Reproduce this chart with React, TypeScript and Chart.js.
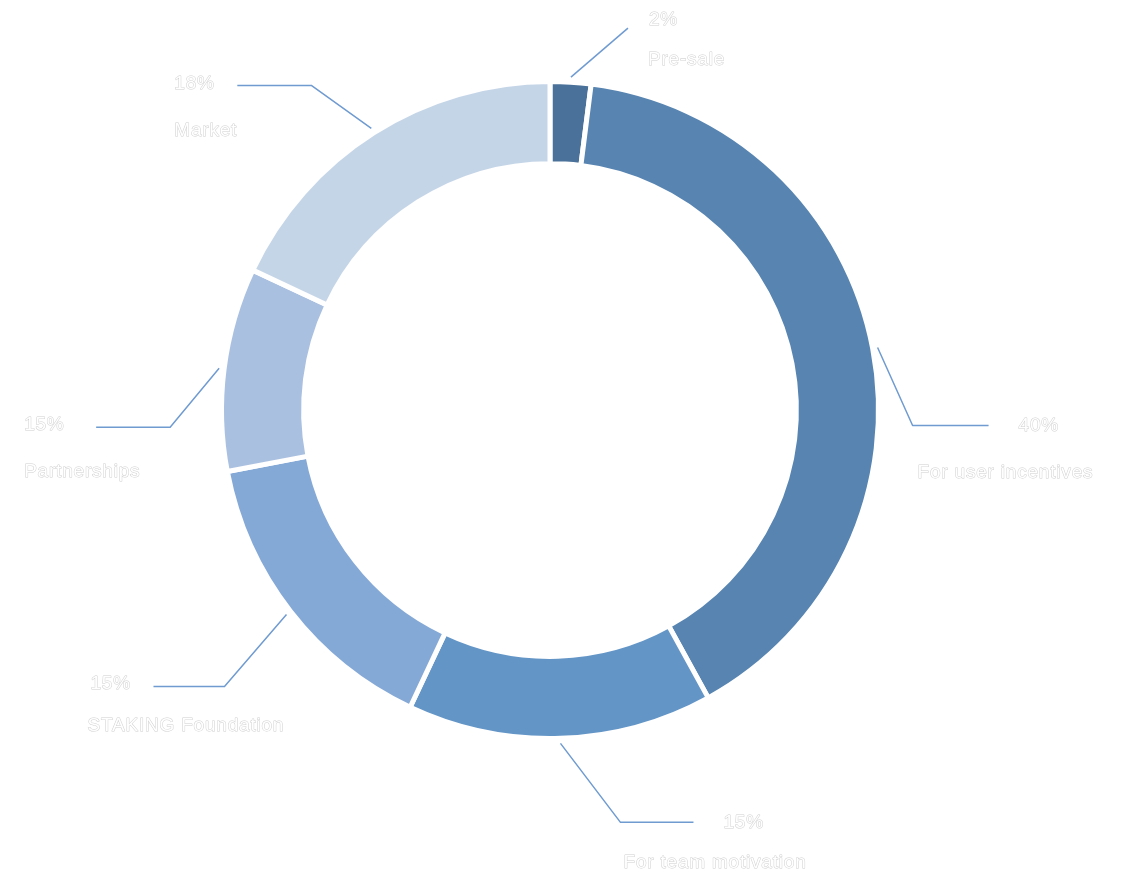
import { useEffect, useRef } from 'react'
import { Chart, DoughnutController, ArcElement } from 'chart.js'

Chart.register(DoughnutController, ArcElement)

// slice shares (the printed labels differ for Partnerships)
const categories = ['Pre-sale', 'For user incentives', 'For team motivation', 'STAKING Foundation', 'Partnerships', 'Market']
const shares = [2, 40, 15, 15, 10, 18]
const percentLabels = ['2%', '40%', '15%', '15%', '15%', '18%']
const sliceColors = ['#4a7199', '#5784b1', '#6395c7', '#85a9d6', '#aac0e1', '#c5d5e8']

// leader elbow offset from the slice tip, horizontal run, and text offsets from the elbow
const labelLayout = [
  { elbow: [57, -49], run: 0, pct: [21, -8], name: [20, 32] },
  { elbow: [35, 78], run: 76, pct: [106, 0], name: [5, 47] },
  { elbow: [60, 79], run: 73, pct: [103, 0], name: [3, 40] },
  { elbow: [-62, 72], run: -71, pct: [-134, -3], name: [-137, 39] },
  { elbow: [-49, 59], run: -74, pct: [-146, -2], name: [-146, 45] },
  { elbow: [-60, -43], run: -74, pct: [-137, -2], name: [-137, 45] },
]

const leaderLabels = {
  id: 'leaderLabels',
  afterDatasetsDraw(chart: Chart) {
    const { ctx } = chart
    const meta = chart.getDatasetMeta(0)
    ctx.save()
    meta.data.forEach((el: any, i: number) => {
      const { x, y, startAngle, endAngle, outerRadius } = el.getProps(['x', 'y', 'startAngle', 'endAngle', 'outerRadius'], true)
      const mid = (startAngle + endAngle) / 2
      const r = outerRadius + 5
      const sx = x + Math.cos(mid) * r
      const sy = y + Math.sin(mid) * r
      const lay = labelLayout[i]
      const ex = sx + lay.elbow[0]
      const ey = sy + lay.elbow[1]

      ctx.strokeStyle = '#6f9bd1'
      ctx.lineWidth = 1.5
      ctx.beginPath()
      ctx.moveTo(sx, sy)
      ctx.lineTo(ex, ey)
      if (lay.run !== 0) ctx.lineTo(ex + lay.run, ey)
      ctx.stroke()

      ctx.font = '19px "Liberation Sans", Arial, sans-serif'
      ;(ctx as any).letterSpacing = '0.8px'
      ctx.textAlign = 'left'
      ctx.textBaseline = 'middle'
      ctx.lineJoin = 'round'
      const texts: [string, number[]][] = [
        [percentLabels[i], lay.pct],
        [categories[i], lay.name],
      ]
      texts.forEach(([t, off]) => {
        ctx.strokeStyle = '#cfcfcf'
        ctx.lineWidth = 1
        ctx.strokeText(t, ex + off[0], ey + off[1])
        ctx.fillStyle = '#ffffff'
        ctx.fillText(t, ex + off[0], ey + off[1])
      })
    })
    ctx.restore()
  },
}

export default function App() {
  const canvasRef = useRef<HTMLCanvasElement | null>(null)
  const chartRef = useRef<Chart | null>(null)

  useEffect(() => {
    if (!canvasRef.current) return
    const ctx = canvasRef.current.getContext('2d')!

    chartRef.current = new Chart(ctx, {
      type: 'doughnut',
      data: {
        labels: categories,
        datasets: [
          {
            data: shares,
            backgroundColor: sliceColors,
            borderColor: '#ffffff',
            borderWidth: 5,
          },
        ],
      },
      options: {
        responsive: true,
        maintainAspectRatio: false,
        animation: false,
        cutout: '75%',
        layout: { padding: { left: 219, top: 79, right: 255, bottom: 149 } },
        plugins: {
          legend: { display: false },
          tooltip: { enabled: false },
        },
      },
      plugins: [leaderLabels],
    })

    return () => chartRef.current?.destroy()
  }, [])

  return (
    <div style={{ position: 'absolute', left: 0, top: 0, width: 1136, height: 890, background: '#ffffff' }}>
      <canvas ref={canvasRef} />
    </div>
  )
}
